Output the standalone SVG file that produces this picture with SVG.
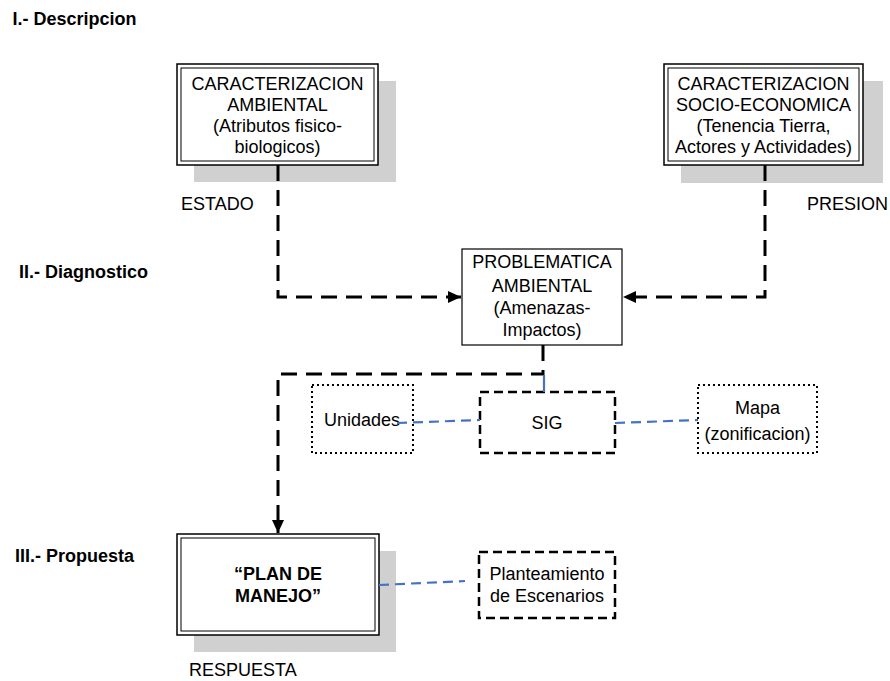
<svg xmlns="http://www.w3.org/2000/svg" width="890" height="681" viewBox="0 0 890 681">
<defs>
<style>
text{font-family:"Liberation Sans",Arial,sans-serif;font-size:18px;fill:#000}
.b{font-weight:bold}
.c{text-anchor:middle}
.sh{fill:#d0d0d0}
.o{fill:#fff;stroke:#000;stroke-width:1.5}
.i{fill:none;stroke:#000;stroke-width:1}
.solid{fill:#fff;stroke:#000;stroke-width:1.2}
.dash{fill:#fff;stroke:#000;stroke-width:2.5;stroke-dasharray:9 5}
.dot{fill:#fff;stroke:#000;stroke-width:2;stroke-dasharray:2 3}
.k{fill:none;stroke:#000;stroke-width:3;stroke-dasharray:16 9}
.bl{fill:none;stroke:#4472c4;stroke-width:2.2;stroke-dasharray:10 6}
</style>
<marker id="ah" markerUnits="userSpaceOnUse" markerWidth="14" markerHeight="14" viewBox="0 0 14 14" refX="13" refY="7" orient="auto">
<path d="M0,1 L13,7 L0,13 Z" fill="#000"/>
</marker>
</defs>
<rect width="890" height="681" fill="#fff"/>
<g id="headings">
<text class="b" x="12.5" y="24.5">I.- Descripcion</text>
<text class="b" x="19" y="277.5">II.- Diagnostico</text>
<text class="b" x="15" y="561.5">III.- Propuesta</text>
</g>
<g id="node-ambiental">
<rect class="sh" x="194" y="81" width="202" height="101"/>
<rect class="o" x="177" y="64" width="201" height="101"/>
<rect class="i" x="181" y="68" width="193" height="93"/>
<text class="c" x="277.5" y="90">CARACTERIZACION</text>
<text class="c" x="277.5" y="111">AMBIENTAL</text>
<text class="c" x="277.5" y="132">(Atributos fisico-</text>
<text class="c" x="277.5" y="153">biologicos)</text>
</g>
<g id="node-socio">
<rect class="sh" x="681" y="81" width="202" height="102"/>
<rect class="o" x="664" y="64" width="199" height="101"/>
<rect class="i" x="668" y="68" width="191" height="93"/>
<text class="c" x="763.5" y="90">CARACTERIZACION</text>
<text class="c" x="763.5" y="111">SOCIO-ECONOMICA</text>
<text class="c" x="763.5" y="132">(Tenencia Tierra,</text>
<text class="c" x="763.5" y="153">Actores y Actividades)</text>
</g>
<g id="labels">
<text x="181" y="209.5">ESTADO</text>
<text x="807" y="209.5">PRESION</text>
<text x="189" y="676">RESPUESTA</text>
</g>
<g id="node-problematica">
<rect class="solid" x="462" y="249" width="160" height="96"/>
<text class="c" x="542" y="268">PROBLEMATICA</text>
<text class="c" x="542" y="292">AMBIENTAL</text>
<text class="c" x="542" y="314">(Amenazas-</text>
<text class="c" x="542" y="335.5">Impactos)</text>
</g>
<g id="node-unidades">
<rect class="dot" x="312" y="385" width="101" height="68"/>
<text class="c" x="362" y="425.5">Unidades</text>
</g>
<g id="node-sig">
<rect class="dash" x="480" y="392" width="135" height="61"/>
<text class="c" x="547" y="428.5">SIG</text>
</g>
<g id="node-mapa">
<rect class="dot" x="698" y="385" width="119" height="68"/>
<text class="c" x="757.5" y="413.5">Mapa</text>
<text class="c" x="757.5" y="439.5">(zonificacion)</text>
</g>
<g id="node-plan">
<rect class="sh" x="194" y="551" width="202" height="101"/>
<rect class="o" x="177" y="534" width="202" height="101"/>
<rect class="i" x="181" y="538" width="194" height="93"/>
<text class="c b" x="278" y="579.5">“PLAN DE</text>
<text class="c b" x="278" y="601.5">MANEJO”</text>
</g>
<g id="node-escenarios">
<rect class="dash" x="479" y="552" width="136" height="66"/>
<text class="c" x="547" y="579.5">Planteamiento</text>
<text class="c" x="547" y="601.5">de Escenarios</text>
</g>
<g id="connectors">
<path class="k" d="M278,165 V297 H461" marker-end="url(#ah)"/>
<path class="k" d="M765,165 V297 H623" marker-end="url(#ah)"/>
<path class="k" d="M543,345 V374 H278 V533" marker-end="url(#ah)"/>
<path d="M544,375 V392" fill="none" stroke="#4472c4" stroke-width="2.2"/>
<path class="bl" d="M397,423 L480,420"/>
<path class="bl" d="M615,423 L698,420"/>
<path class="bl" d="M379,585 L465,581"/>
</g>
</svg>
